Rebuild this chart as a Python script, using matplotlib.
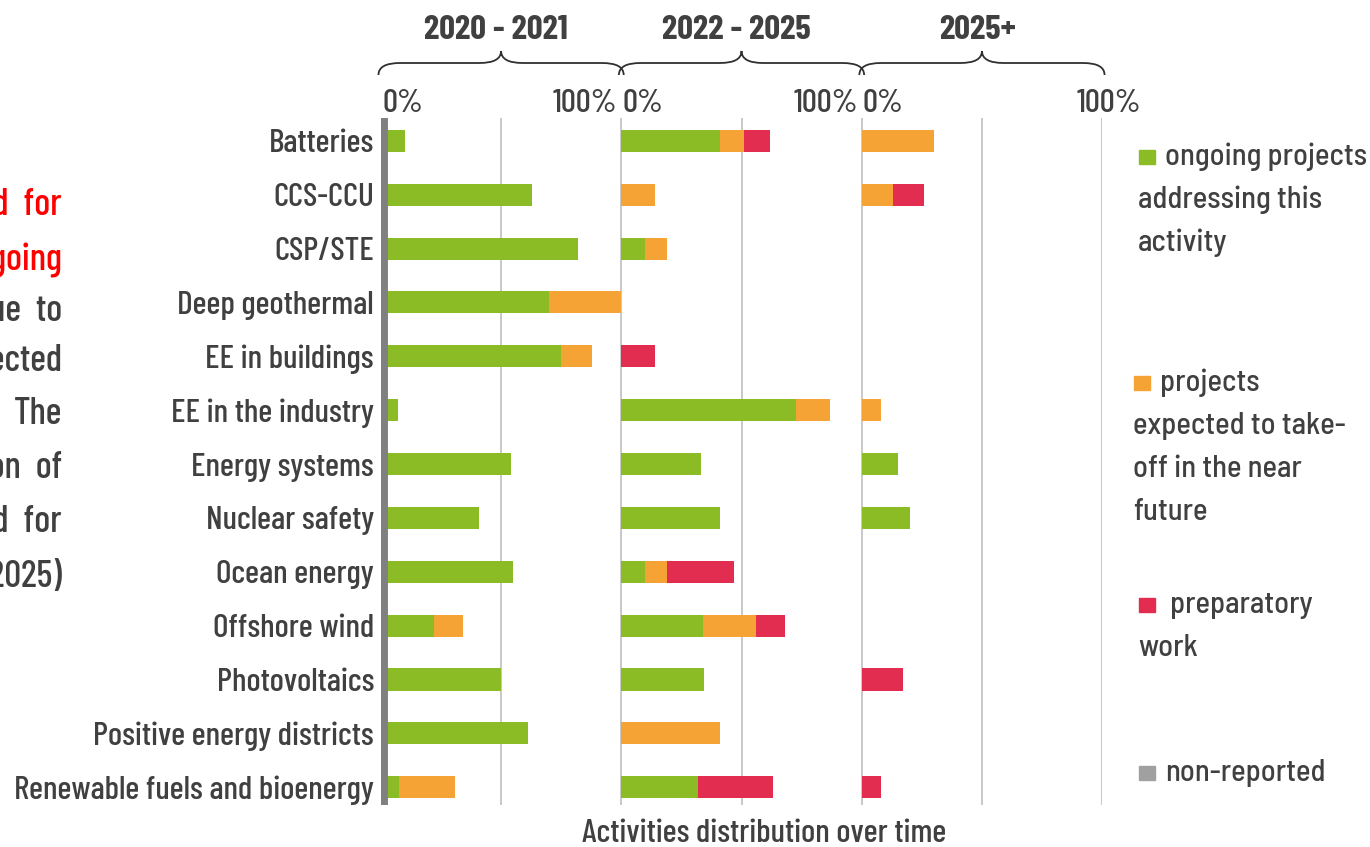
import numpy as np
import matplotlib
matplotlib.use("Agg")
import matplotlib.pyplot as plt
from matplotlib.path import Path
from matplotlib.patches import PathPatch, Rectangle
from matplotlib import transforms

matplotlib.rcParams.update({'font.family': ['Barlow Condensed', 'DejaVu Sans'],
                            'font.weight': 500})

categories = ["Batteries", "CCS-CCU", "CSP/STE", "Deep geothermal", "EE in buildings",
              "EE in the industry", "Energy systems", "Nuclear safety", "Ocean energy",
              "Offshore wind", "Photovoltaics", "Positive energy districts",
              "Renewable fuels and bioenergy"]
periods = ["2020 - 2021", "2022 - 2025", "2025+"]

# shares per period (fraction of 100%)
p1_ongoing = [0.10, 0.63, 0.82, 0.70, 0.75, 0.07, 0.54, 0.41, 0.55, 0.22, 0.50, 0.61, 0.075]
p1_expected = [0, 0, 0, 0.30, 0.13, 0, 0, 0, 0, 0.12, 0, 0, 0.235]
p1_prep = [0, 0, 0, 0, 0, 0, 0, 0, 0, 0, 0, 0, 0]
p2_ongoing = [0.41, 0, 0.10, 0, 0, 0.725, 0.33, 0.41, 0.10, 0.34, 0.345, 0, 0.32]
p2_expected = [0.10, 0.14, 0.09, 0, 0, 0.145, 0, 0, 0.09, 0.22, 0, 0.41, 0]
p2_prep = [0.11, 0, 0, 0, 0.14, 0, 0, 0, 0.28, 0.12, 0, 0, 0.31]
p3_ongoing = [0, 0, 0, 0, 0, 0, 0.15, 0.20, 0, 0, 0, 0, 0]
p3_expected = [0.30, 0.13, 0, 0, 0, 0.08, 0, 0, 0, 0, 0, 0, 0]
p3_prep = [0, 0.13, 0, 0, 0, 0, 0, 0, 0, 0, 0.17, 0, 0.08]

legend_lines = [["ongoing projects", "addressing this", "activity"],
                ["projects", "expected to take-", "off in the near", "future"],
                ["preparatory", "work"],
                ["non-reported"]]

colors = ["#8bbc25", "#f6a335", "#e22d50", "#a0a0a0"]
txt = "#404040"

data = [[p1_ongoing, p1_expected, p1_prep],
        [p2_ongoing, p2_expected, p2_prep],
        [p3_ongoing, p3_expected, p3_prep]]

fig = plt.figure(figsize=(13.7, 8.47), dpi=100)
ax = fig.add_axes([0.278, 0.0496, 0.5265, 0.8115])

y = np.arange(len(categories))
for k, per in enumerate(data):
    left = np.full(len(categories), float(k))
    for s, vals in enumerate(per):
        vals = np.array(vals)
        ax.barh(y, vals, left=left, height=0.41, color=colors[s], zorder=2)
        left = left + vals

ax.set_xlim(0, 3)
ax.set_ylim(12.33, -0.43)
for gx in np.arange(0.5, 3.01, 0.5):
    ax.axvline(gx, color="#c8c8c8", lw=1.4, zorder=1)
ax.axvline(0, color="#808080", lw=10, zorder=3)

ax.set_yticks(y)
ax.set_yticklabels(categories, fontsize=24, color=txt)
ax.tick_params(axis='y', length=0, pad=5)
ax.set_xticks([])
for sp in ax.spines.values():
    sp.set_visible(False)

trans = transforms.blended_transform_factory(ax.transData, fig.transFigure)

def fy(px):
    return 1 - px / 847.0

# top percentage labels
for k in range(3):
    ax.text(k + 0.005, fy(103), "0%", transform=trans, ha='left', va='center',
            fontsize=24, color=txt)
    if k < 2:
        ax.text(k + 0.985, fy(103), "100%", transform=trans, ha='right', va='center',
                fontsize=24, color=txt)
    else:
        ax.text(k + 1.03, fy(103), "100%", transform=trans, ha='center', va='center',
                fontsize=24, color=txt)

# period headers and braces
for k, name in enumerate(periods):
    ax.text(k + 0.48, fy(30), name, transform=trans, ha='center', va='center',
            fontsize=25, fontweight='bold', color=txt)
    x0, x1, xm = k - 0.01, k + 1.01, k + 0.5
    yb, ye, yt = fy(63), fy(75), fy(51)
    r = 0.09
    verts = [(x0, ye), (x0, yb), (x0 + r, yb), (xm - r, yb), (xm, yb), (xm, yt),
             (xm, yb), (xm + r, yb), (x1 - r, yb), (x1, yb), (x1, ye)]
    codes = [Path.MOVETO, Path.CURVE3, Path.CURVE3, Path.LINETO, Path.CURVE3, Path.CURVE3,
             Path.CURVE3, Path.CURVE3, Path.LINETO, Path.CURVE3, Path.CURVE3]
    ax.add_patch(PathPatch(Path(verts, codes), transform=trans, fill=False,
                           edgecolor="#303030", lw=1.3, clip_on=False))

fig.text(764 / 1370, fy(833), "Activities distribution over time", ha='center', va='center',
         fontsize=24, color=txt)

# legend (wrapped lines, drawn by hand)
leg_pos = [(1147, 157, 1165, 1138), (1142, 383, 1160, 1133),
           (1147, 605, 1170, 1138), (1147, 773, 1165, 1138)]
for col, (sx, sy, tx, lx), lines in zip(colors, leg_pos, legend_lines):
    fig.patches.append(Rectangle((sx / 1370 - 0.0055, fy(sy) - 0.0085), 0.011, 0.017,
                                 transform=fig.transFigure, color=col))
    for i, line in enumerate(lines):
        fig.text((tx if i == 0 else lx) / 1370, fy(sy + 43 * i), line, ha='left', va='center',
                 fontsize=22, color=txt, family=['Barlow Semi Condensed', 'DejaVu Sans'])

# clipped paragraph at the left edge
side = [("needed  for", 205, "#ff0000"), ("ongoing", 260, "#ff0000"), ("due  to", 311, txt),
        ("expected", 361, txt), ("The", 414, txt), ("distribution  of", 468, txt),
        ("needed  for", 522, txt), ("(2022-2025)", 577, txt)]
for s, py, col in side:
    fig.text(62 / 1370, fy(py), s, ha='right', va='center', fontsize=27, color=col)

fig.savefig("out.png", dpi=100)
